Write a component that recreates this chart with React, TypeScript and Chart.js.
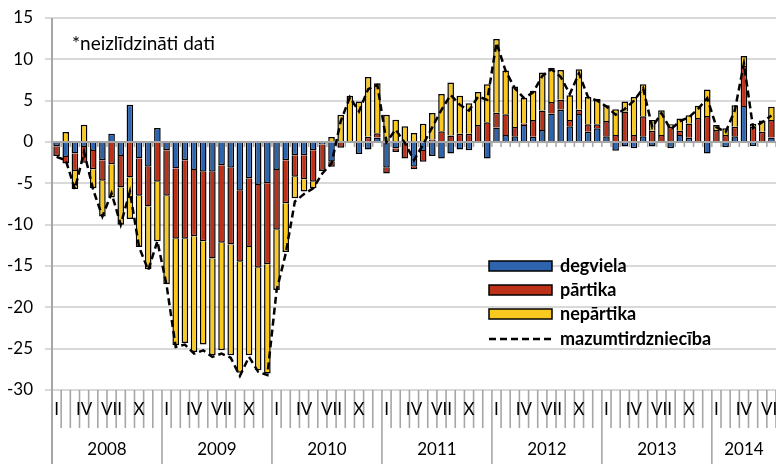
import { useEffect, useRef } from "react";
import { Chart, registerables } from "chart.js";

Chart.register(...registerables);

// ---------- DATA ----------
const years = ["2008", "2009", "2010", "2011", "2012", "2013", "2014"];
const monthNames = ["I", "II", "III", "IV", "V", "VI", "VII", "VIII", "IX", "X", "XI", "XII"];
const shownMonths = ["I", "IV", "VII", "X"];
const monthsInLastYear = 7;

const degviela = [
  -0.5, -1.8, -1.4, -0.6, -1.1, -2.2, 1.0, -1.7, 4.5, -2.0, -3.0, 1.7,
  -1.0, -3.2, -2.2, -3.4, -3.6, -3.6, -2.8, -3.1, -5.9, -4.4, -5.2, -5.0,
  -3.4, -2.2, -1.6, -1.6, -1.0, -0.3, -2.4, 0, 0, -1.45, -0.9, 0.55,
  -3.1, -0.8, 0, -3.0, -1.1, -1.7, -2.0, -1.4, -0.9, -1.0, 0, -2.0,
  1.75, 0.85, 0.7, 2.05, 0.65, 1.45, 3.45, 3.9, 1.9, 3.4, 1.25, 1.65,
  0.7, -1.05, -0.55, -0.75, 0.7, -0.55, 0, -0.75, 0.85, 0.5, -0.1, -1.4,
  0, -0.65, 0.7, 4.35, -0.5, 0, 0.55,
];
const partika = [
  -1.2, -0.8, -2.1, -1.9, -2.2, -2.5, -2.7, -3.8, -4.3, -4.5, -4.8, -4.8,
  -5.5, -8.5, -9.5, -8.0, -8.4, -10.5, -9.4, -9.3, -8.6, -8.3, -10.0, -9.8,
  -7.2, -5.2, -2.6, -2.9, -3.8, -3.2, -0.6, -0.7, 0, 0, 0.65, 0.5,
  -0.7, -0.4, -2.0, -0.3, -1.3, 0.3, 1.3, 0.8, 1.0, 1.0, 2.05, 2.4,
  1.8, 2.5, 1.1, 0.2, 2.0, 2.35, 1.4, 1.2, 0.75, 0.5, 0.9, 0.5,
  1.85, 0.85, 3.7, 0.85, 2.4, 1.35, 0.85, 1.85, 0.5, 1.75, 2.9, 3.15,
  1.45, 0.85, 1.15, 4.85, 1.85, 1.25, 2.1,
];
const nepartika = [
  0, 1.2, -2.2, 2.1, -2.3, -4.3, -4.0, -4.5, -5.0, -6.2, -7.6, -7.2,
  -10.7, -12.9, -12.6, -14.0, -12.5, -11.7, -13.0, -13.4, -13.4, -13.1, -12.4, -13.2,
  -7.3, -5.9, -2.6, -1.5, -0.8, 0, 0.6, 3.3, 5.6, 4.9, 7.2, 6.05,
  3.3, 2.7, 1.9, 1.1, 2.2, 3.2, 4.5, 6.4, 4.6, 3.7, 4.0, 4.6,
  8.9, 5.3, 4.9, 3.1, 3.55, 4.6, 4.1, 3.6, 3.0, 4.9, 3.3, 3.05,
  1.9, 3.1, 1.2, 4.6, 3.9, 1.3, 3.0, 0.3, 1.5, 1.0, 1.5, 3.2,
  0.6, 0.8, 2.6, 1.2, 0.35, 1.35, 1.6,
];
const mazumtirdznieciba = [
  -1.8, -2.2, -5.7, -1.2, -5.8, -9.0, -6.2, -10.0, -6.0, -12.7, -15.5, -12.0,
  -17.3, -24.8, -24.5, -25.6, -25.2, -26.0, -25.6, -26.1, -28.3, -26.0, -27.8, -28.2,
  -18.0, -13.5, -7.2, -6.3, -5.6, -3.8, -2.6, 2.5, 5.4, 3.7, 6.4, 6.9,
  0.0, 1.5, -0.1, -2.2, -0.3, 1.8, 3.9, 5.7, 4.5, 3.8, 5.5, 5.1,
  12.0, 8.6, 6.5, 5.3, 6.0, 8.0, 8.8, 7.9, 5.8, 8.3, 5.4, 5.0,
  4.3, 3.3, 4.0, 5.0, 6.5, 1.8, 3.5, 1.5, 2.5, 3.0, 4.0, 5.3,
  1.8, 1.2, 3.8, 9.5, 1.7, 2.4, 3.2,
];

const seriesNames = ["degviela", "pārtika", "nepārtika", "mazumtirdzniecība"];
const noteText = "*neizlīdzināti dati";
const yMin = -30;
const yMax = 15;
const yStep = 5;

// categories: "YYYY M"
const categories: string[] = [];
years.forEach((y, yi) => {
  const n = yi === years.length - 1 ? monthsInLastYear : 12;
  for (let m = 0; m < n; m++) categories.push(y + " " + monthNames[m]);
});

// ---------- STYLE ----------
const BLUE = "#2E64AE";
const RED = "#BE3119";
const YELLOW = "#F9C91F";
const AXIS = "#a6a6a6";
const GRID = "#d9d9d9";
const FONT = "Lato";

const decorPlugin = {
  id: "decor",
  beforeDatasetDraw(chart: any, args: any) {
    if (args.index !== 3) return;
    const { ctx, chartArea, scales } = chart;
    const y0 = scales.y.getPixelForValue(0);
    const n = categories.length;
    const w = (chartArea.right - chartArea.left) / n;
    ctx.save();
    ctx.strokeStyle = AXIS;
    ctx.lineWidth = 2;
    ctx.beginPath();
    ctx.moveTo(chartArea.left, y0);
    ctx.lineTo(chartArea.right, y0);
    ctx.stroke();
    ctx.lineWidth = 1.5;
    for (let k = 1; k <= n; k++) {
      const px = chartArea.left + k * w;
      ctx.beginPath();
      ctx.moveTo(px, y0);
      ctx.lineTo(px, y0 + 5);
      ctx.stroke();
    }
    ctx.restore();
  },
  afterDraw(chart: any) {
    const { ctx, chartArea, scales } = chart;
    const x = scales.x;
    const n = categories.length;
    const w = (chartArea.right - chartArea.left) / n;
    const bottom = chartArea.bottom;
    const H = chart.height;
    ctx.save();
    // left axis line
    ctx.strokeStyle = AXIS;
    ctx.lineWidth = 2;
    ctx.beginPath();
    ctx.moveTo(chartArea.left, chartArea.top);
    ctx.lineTo(chartArea.left, H);
    ctx.stroke();
    // category boundaries
    ctx.lineWidth = 1.6;
    for (let k = 1; k <= n; k++) {
      const px = chartArea.left + k * w;
      const isYear = k % 12 === 0;
      ctx.beginPath();
      ctx.moveTo(px, bottom);
      ctx.lineTo(px, isYear ? H : bottom + 38);
      ctx.stroke();
    }
    // month labels
    ctx.fillStyle = "#000";
    ctx.font = `17px ${FONT}`;
    ctx.textAlign = "center";
    ctx.textBaseline = "middle";
    categories.forEach((c, i) => {
      const m = c.split(" ")[1];
      if (shownMonths.includes(m)) {
        ctx.fillText(m, x.getPixelForValue(i), bottom + 20);
      }
    });
    // year labels
    let start = 0;
    years.forEach((yname, yi) => {
      const cnt = yi === years.length - 1 ? monthsInLastYear : 12;
      const a = x.getPixelForValue(start) - w / 2;
      const b = x.getPixelForValue(start + cnt - 1) + w / 2;
      ctx.fillText(yname, (a + b) / 2, bottom + 60);
      start += cnt;
    });
    // note
    ctx.textAlign = "left";
    ctx.font = `19px ${FONT}`;
    ctx.fillText(noteText, 72, 44);
    // legend
    const ds = chart.data.datasets;
    const lx = 489;
    const ly = [266, 290, 314, 339];
    ctx.font = `bold 18px ${FONT}`;
    for (let i = 0; i < 4; i++) {
      const yy = ly[i];
      if (i < 3) {
        ctx.fillStyle = ds[i].backgroundColor;
        ctx.fillRect(lx, yy - 5, 63, 10);
        ctx.strokeStyle = "#000";
        ctx.lineWidth = 1.5;
        ctx.strokeRect(lx, yy - 5, 63, 10);
      } else {
        ctx.strokeStyle = "#000";
        ctx.lineWidth = 2.5;
        ctx.setLineDash([7, 4]);
        ctx.beginPath();
        ctx.moveTo(lx, yy);
        ctx.lineTo(lx + 63, yy);
        ctx.stroke();
        ctx.setLineDash([]);
      }
      ctx.fillStyle = "#000";
      ctx.fillText(ds[i].label, 560, yy);
    }
    ctx.restore();
  },
};

export default function App() {
  const ref = useRef<HTMLCanvasElement | null>(null);
  useEffect(() => {
    if (!ref.current) return;
    const chart = new Chart(ref.current, {
      type: "bar",
      data: {
        labels: categories,
        datasets: [
          { label: seriesNames[0], data: degviela, backgroundColor: BLUE, borderColor: "#000", borderWidth: 1.5, stack: "a", order: 1 } as any,
          { label: seriesNames[1], data: partika, backgroundColor: RED, borderColor: "#000", borderWidth: 1.5, stack: "a", order: 1 },
          { label: seriesNames[2], data: nepartika, backgroundColor: YELLOW, borderColor: "#000", borderWidth: 1.5, stack: "a", order: 1 },
          {
            type: "line",
            label: seriesNames[3],
            data: mazumtirdznieciba,
            borderColor: "#000",
            backgroundColor: "#000",
            borderWidth: 2.5,
            borderDash: [7, 4],
            pointRadius: 0,
            tension: 0,
            stack: "line",
            order: 0,
          } as any,
        ],
      },
      options: {
        responsive: false,
        maintainAspectRatio: false,
        animation: false,
        layout: { padding: { top: 18, bottom: 74, left: 0, right: 0 } },
        datasets: { bar: { categoryPercentage: 1, barPercentage: 0.72 } },
        plugins: { legend: { display: false }, tooltip: { enabled: false } },
        scales: {
          x: { display: false, stacked: true, offset: true },
          y: {
            stacked: true,
            min: yMin,
            max: yMax,
            afterFit(scale: any) {
              scale.width = 52;
              scale.paddingTop = 2;
              scale.paddingBottom = 2;
            },
            ticks: {
              stepSize: yStep,
              padding: 12,
              color: "#000",
              font: { family: FONT, size: 17 },
            },
            grid: { color: GRID, lineWidth: 2, tickLength: 7 },
            border: { display: false },
          },
        },
      },
      plugins: [decorPlugin],
    });
    return () => chart.destroy();
  }, []);
  return (
    <div style={{ position: "absolute", left: 0, top: 0, width: 776, height: 464, background: "#fff" }}>
      <canvas ref={ref} width={776} height={464} />
    </div>
  );
}
